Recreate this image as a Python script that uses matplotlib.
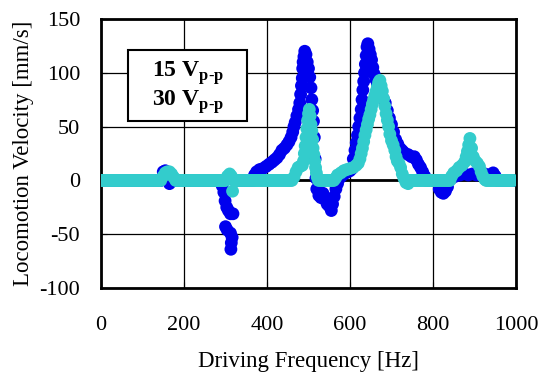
import numpy as np
import matplotlib
matplotlib.use('Agg')
import matplotlib.pyplot as plt
from matplotlib.patches import Rectangle

plt.rcParams['font.family'] = 'Liberation Serif'
plt.rcParams['axes.unicode_minus'] = False
plt.rcParams['mathtext.fontset'] = 'custom'
plt.rcParams['mathtext.rm'] = 'Liberation Serif:bold'

# frequency ranges where each run sits on zero
blueZeroRanges = [(0, 146), (172, 286), (322, 368), (784, 812), (955, 998)]
cyanZeroRanges = [(0, 146), (180, 302), (322, 462), (528, 563), (745, 842), (928, 996)]

# 15 Vp-p run
blueFreq = [150, 155, 160, 165,
            292, 296, 299, 303, 307, 312, 318, 300, 304, 312, 316, 314, 313,
            370, 375, 382, 390, 398, 405, 412, 418, 424, 430, 436, 442, 448, 453, 458,
            462, 465, 468, 472, 476, 479, 481, 483, 485, 486, 487, 489, 491, 494, 497,
            500, 503, 506, 508, 510, 512, 514, 516, 518,
            520, 525, 530, 535, 540, 545, 550, 555, 558, 562, 566, 570,
            575, 580, 585, 590, 595, 600, 605,
            608, 612, 615, 618, 621, 624, 627, 629, 631, 633, 635, 637, 639, 641, 643,
            646, 649, 652, 655, 658, 662, 666, 670, 675, 680, 685, 690, 695, 700, 705,
            710, 715, 720, 725, 730, 740, 748, 755, 760, 765, 770, 775, 780,
            815, 820, 825, 830, 835, 845, 855, 865, 875, 885, 895, 905, 915, 925, 935, 945, 950]
blueVel = [8, 9, 7, -3,
           -5, -11, -19, -25, -28, -31, -31, -43, -46, -49, -53, -58, -64,
           5, 8, 10, 11, 13, 15, 17, 19, 21, 24, 28, 30, 33, 36, 40,
           45, 50, 54, 60, 66, 72, 80, 88, 95, 104, 110, 115, 120, 117, 110,
           104, 96, 86, 75, 65, 55, 40, 20, 2,
           -8, -14, -16, -12, -18, -22, -24, -28, -22, -15, -8, -3,
           2, 4, 6, 7, 8, 9, 11,
           20, 28, 35, 42, 50, 58, 66, 75, 84, 92, 100, 108, 116, 124, 127,
           122, 117, 112, 105, 99, 94, 89, 85, 80, 76, 72, 65, 58, 52, 45,
           38, 34, 30, 28, 26, 24, 22, 22, 19, 15, 12, 8, 4,
           -8, -11, -12, -10, -6, 2, 4, 5, 6, 5, 6, 5, 6, 6, 5, 7, 4]

# 30 Vp-p run
cyanFreq = [150, 155, 160, 165, 170, 175,
            305, 310, 314, 317,
            465, 470, 475, 480, 485, 488, 490, 492, 494, 496, 498, 500, 502, 504, 506,
            508, 510, 511, 513, 515, 517, 519, 521, 524,
            565, 570, 578, 585, 592, 600, 608, 615, 620, 624, 627, 630, 633, 636, 639,
            642, 645, 648, 651, 654, 657, 660, 663, 666, 669, 672, 675, 678, 681, 684,
            687, 690, 693, 696, 700, 704, 708, 711, 714, 718, 722, 726, 730, 735, 740,
            845, 850, 857, 863, 870, 876, 880, 883, 886, 889, 893, 897, 902, 907, 912,
            916, 920, 925]
cyanVel = [4, 7, 8, 8, 6, 3,
           4, 6, 4, -10,
           3, 8, 12, 13, 14, 18, 25, 32, 40, 48, 56, 62, 66, 60, 52,
           46, 38, 30, 24, 18, 12, 7, 3, 0,
           2, 5, 7, 9, 10, 11, 12, 14, 16, 20, 25, 30, 36, 42, 47,
           52, 57, 61, 66, 71, 75, 79, 83, 87, 91, 93, 88, 83, 76, 69,
           62, 56, 50, 43, 37, 33, 28, 22, 18, 16, 12, 6, 2, -2, -3,
           4, 7, 9, 12, 14, 17, 22, 27, 33, 39, 30, 22, 18, 16, 13,
           8, 4, 1]


def zeroRun(ranges):
    f = np.concatenate([np.arange(a, b, 3) for a, b in ranges])
    return f, np.zeros(len(f))


fig = plt.figure(figsize=(5.39, 3.76), dpi=100)
ax = fig.add_axes([0.1874, 0.234, 0.7699, 0.7155])

ax.axhline(0, color='black', linewidth=2, zorder=1)

bzf, bzv = zeroRun(blueZeroRanges)
czf, czv = zeroRun(cyanZeroRanges)
ax.scatter(np.concatenate([bzf, blueFreq]), np.concatenate([bzv, blueVel]),
           s=85, color='#0000EE', edgecolors='none', zorder=2)
ax.scatter(np.concatenate([czf, cyanFreq]), np.concatenate([czv, cyanVel]),
           s=85, color='#33CCCC', edgecolors='none', zorder=3)

ax.set_xlim(0, 1000)
ax.set_ylim(-100, 150)
ax.set_xticks(range(0, 1001, 200))
ax.set_yticks(range(-100, 151, 50))
ax.grid(True, color='black', linewidth=0.9)
ax.set_axisbelow(True)
ax.tick_params(direction='in', length=4, labelsize=16)
ax.tick_params(axis='x', pad=20)
ax.tick_params(axis='y', pad=15)
for s in ax.spines.values():
    s.set_linewidth(2)

ax.set_xlabel('Driving Frequency [Hz]', fontsize=16.5, labelpad=12)
ax.set_ylabel('Locomotion Velocity [mm/s]', fontsize=16.5, labelpad=4)

box = Rectangle((0.065, 0.621), 0.287, 0.264, transform=ax.transAxes,
                facecolor='white', edgecolor='black', linewidth=1.5, zorder=4)
ax.add_patch(box)
ax.text(0.2085, 0.80, r'15 V$_{\text{p-p}}$', transform=ax.transAxes, fontsize=17,
        fontweight='bold', ha='center', va='center', zorder=5)
ax.text(0.2085, 0.69, r'30 V$_{\text{p-p}}$', transform=ax.transAxes, fontsize=17,
        fontweight='bold', ha='center', va='center', zorder=5)

fig.savefig('out.png', dpi=100)
